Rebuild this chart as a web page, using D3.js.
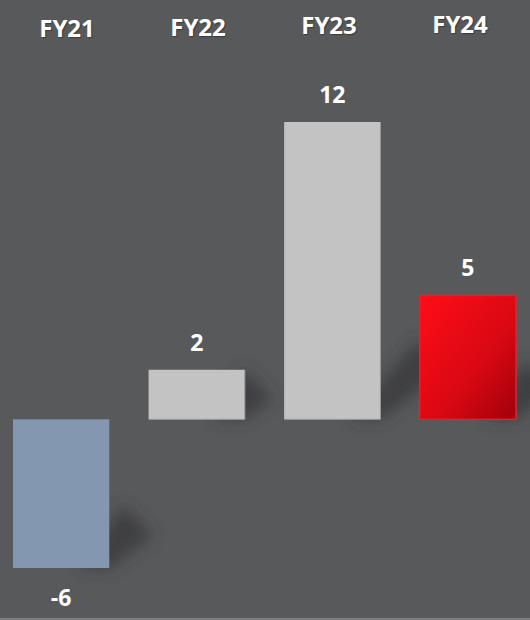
<!DOCTYPE html>
<html>
<head>
<meta charset="utf-8">
<script src="https://cdn.jsdelivr.net/npm/d3@7"></script>
<style>
  html, body { margin: 0; padding: 0; background: #58595b; }
  svg { display: block; }
</style>
</head>
<body>
<script>
// chart data
const years = ["FY21", "FY22", "FY23", "FY24"];
const values = [-6, 2, 12, 5];
const fills = ["#8497b0", "#c3c3c3", "#c3c3c3", "url(#redGrad)"];

const width = 530, height = 620;

const svg = d3.select("body")
  .append("svg")
  .attr("width", width)
  .attr("height", height);

svg.append("rect")
  .attr("width", width)
  .attr("height", height)
  .attr("fill", "#58595b");

// bottom edge line
svg.append("rect")
  .attr("x", 0).attr("y", 618)
  .attr("width", width).attr("height", 2)
  .attr("fill", "#7d7e80");

const defs = svg.append("defs");
const grad = defs.append("linearGradient")
  .attr("id", "redGrad")
  .attr("x1", "0%").attr("y1", "0%")
  .attr("x2", "100%").attr("y2", "100%");
grad.append("stop").attr("offset", "0%").attr("stop-color", "#ff0d18");
grad.append("stop").attr("offset", "60%").attr("stop-color", "#d80812");
grad.append("stop").attr("offset", "100%").attr("stop-color", "#a0000c");

defs.append("filter")
  .attr("id", "blur")
  .attr("x", "-50%").attr("y", "-50%")
  .attr("width", "200%").attr("height", "200%")
  .append("feGaussianBlur")
  .attr("stdDeviation", 8);

const x = d3.scaleBand()
  .domain(years)
  .range([13, 516])
  .paddingInner(0.29)
  .paddingOuter(0);

const y = d3.scaleLinear()
  .domain([-6, 12])
  .range([568, 122]);

// category labels sit on a slightly tilted line
const labelX = d3.scaleLinear().domain([0, years.length - 1]).range([67, 460]);
const labelY = d3.scaleLinear().domain([0, years.length - 1]).range([37, 33]);

const data = years.map((d, i) => ({year: d, value: values[i], fill: fills[i], i: i}));

// soft shadows to the lower right of each bar
svg.append("g")
  .selectAll("path")
  .data(data)
  .enter()
  .append("path")
  .attr("filter", "url(#blur)")
  .attr("fill", "#2e2f31")
  .attr("opacity", 0.6)
  .attr("d", d => {
    const x0 = x(d.year), x1 = x0 + x.bandwidth();
    const yb = d.value < 0 ? y(d.value) : y(0);
    const h = Math.abs(y(d.value) - y(0));
    const L = 25 + h * 0.2;
    const dx = L * 0.8, dy = L * 0.6;
    return "M" + (x1 - 30) + "," + yb +
      "L" + x1 + "," + yb +
      "L" + (x1 + dx) + "," + (yb - dy) +
      "L" + (x1 + dx - 30) + "," + (yb - dy - 30) + "Z";
  });

// bars
svg.append("g")
  .selectAll("rect")
  .data(data)
  .enter()
  .append("rect")
  .attr("x", d => x(d.year))
  .attr("y", d => y(Math.max(0, d.value)))
  .attr("width", x.bandwidth())
  .attr("height", d => Math.abs(y(d.value) - y(0)))
  .attr("fill", d => d.fill)
  .attr("stroke", d => d.year === "FY24" ? "#e8202a" : "none")
  .attr("stroke-width", 1.5);

// subtle edge on the grey bars
svg.append("g")
  .selectAll("path")
  .data(data.filter(d => d.year === "FY22" || d.year === "FY23"))
  .enter()
  .append("path")
  .attr("fill", "none")
  .attr("stroke", "#9a9a9a")
  .attr("stroke-width", 1)
  .attr("d", d => {
    const x1 = x(d.year) + x.bandwidth();
    return "M" + x1 + "," + y(d.value) + "L" + x1 + "," + y(0) + "L" + x(d.year) + "," + y(0);
  });

// value labels
svg.append("g")
  .selectAll("text")
  .data(data)
  .enter()
  .append("text")
  .attr("x", d => x(d.year) + x.bandwidth() / 2)
  .attr("y", d => d.value < 0 ? y(d.value) + 38 : y(d.value) - 19)
  .attr("text-anchor", "middle")
  .attr("font-family", "'Open Sans', sans-serif")
  .attr("font-weight", "bold")
  .attr("font-size", "23px")
  .attr("fill", "#ffffff")
  .text(d => d.value);

// category labels
svg.append("g")
  .selectAll("text")
  .data(data)
  .enter()
  .append("text")
  .attr("x", d => labelX(d.i))
  .attr("y", d => labelY(d.i))
  .attr("text-anchor", "middle")
  .attr("font-family", "'Open Sans', sans-serif")
  .attr("font-weight", "bold")
  .attr("font-size", "24px")
  .attr("fill", "#ffffff")
  .style("text-shadow", "1px 1px 1px rgba(0,0,0,0.35)")
  .text(d => d.year);
</script>
</body>
</html>
